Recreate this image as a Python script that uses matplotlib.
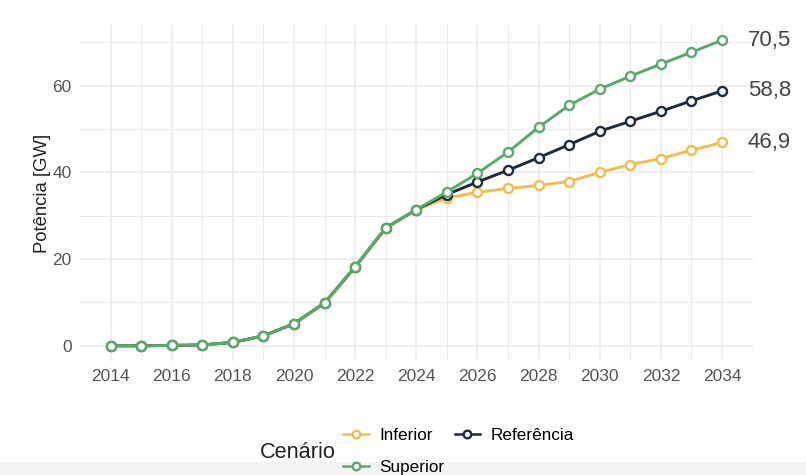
import matplotlib
matplotlib.use("Agg")
import matplotlib.pyplot as plt
from matplotlib.patches import Rectangle

years = list(range(2014, 2035))
common = [0.0, 0.0, 0.1, 0.2, 0.8, 2.3, 5.1, 9.9, 18.2, 27.2, 31.4]
inferior = common + [34.1, 35.4, 36.3, 37.0, 37.9, 40.0, 41.8, 43.2, 45.1, 46.9]
referencia = common + [34.9, 37.8, 40.5, 43.4, 46.4, 49.5, 51.8, 54.1, 56.5, 58.8]
superior = common + [35.5, 39.8, 44.7, 50.4, 55.5, 59.2, 62.2, 65.0, 67.7, 70.5]
end_labels = ["46,9", "58,8", "70,5"]

col_inf = "#f0be4a"
col_ref = "#1c2b40"
col_sup = "#5aaa6a"

plt.rcParams['font.family'] = ['Liberation Sans', 'DejaVu Sans']

fig = plt.figure(figsize=(8.06, 4.75), dpi=100)
fig.patch.set_facecolor("white")
fig.patches.append(Rectangle((0, 0), 1, 13/475, transform=fig.transFigure,
                             facecolor="#f4f4f4", edgecolor="none", zorder=0))
ax = fig.add_axes([80/806, 1-361/475, (752.6-80)/806, (361-25)/475])

grid_c = "#ebebeb"
for x in range(2014, 2035):
    ax.axvline(x, color=grid_c, lw=1.2 if x % 2 == 0 else 0.7, zorder=0)
for y in range(0, 80, 10):
    ax.axhline(y, color=grid_c, lw=1.2 if y % 20 == 0 else 0.7, zorder=0)

kw = dict(lw=2.1, marker="o", markersize=6.5, markerfacecolor="white",
          markeredgewidth=1.7)
l1, = ax.plot(years, inferior, color=col_inf, label="Inferior", zorder=3, **kw)
l2, = ax.plot(years, referencia, color=col_ref, label="Referência", zorder=4, **kw)
l3, = ax.plot(years, superior, color=col_sup, label="Superior", zorder=5, **kw)

for series, lab in zip([inferior, referencia, superior], end_labels):
    ax.annotate(lab, xy=(years[-1], series[-1]), xytext=(18.5, 0),
                textcoords="offset points", ha="left", va="center",
                fontsize=16, color="#444444", annotation_clip=False)

ax.set_xlim(2013, 2035)
ax.set_ylim(-3.5, 74)
ax.set_xticks(range(2014, 2035, 2))
ax.set_yticks([0, 20, 40, 60])
ax.tick_params(length=0, labelsize=12.5, labelcolor="#555555", pad=6)
for s in ax.spines.values():
    s.set_visible(False)
ax.set_facecolor("white")
ax.set_ylabel("Potência [GW]", fontsize=13.3, color="#222222", labelpad=1)

fig.text(260/806, 1-452/475, "Cenário", fontsize=15.7, color="#222222",
         ha="left", va="center")
leg = fig.legend([l1, l3, l2], ["Inferior", "Superior", "Referência"],
                 ncol=2, loc="center left", bbox_to_anchor=(328/806, 1-451.5/475),
                 frameon=False, fontsize=12.3, handlelength=1.5,
                 columnspacing=0.6, labelspacing=0.95, handletextpad=0.6)
for h in leg.legend_handles:
    h.set_markersize(5.5)
    h.set_linewidth(1.8)

fig.savefig("out.png", dpi=100)
